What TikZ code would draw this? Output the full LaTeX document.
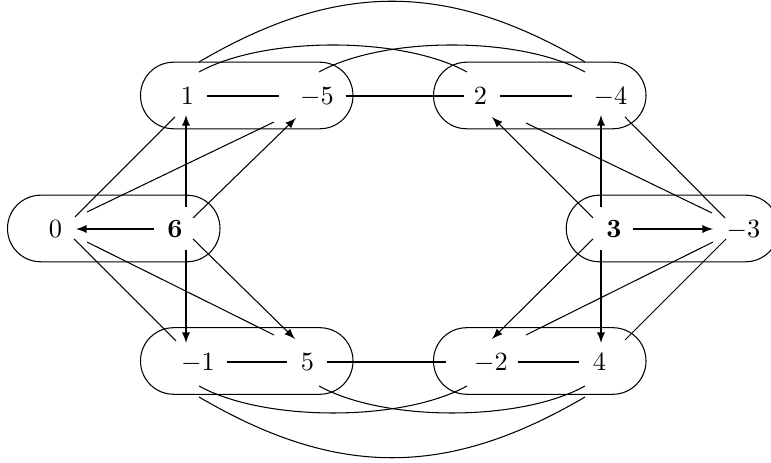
\documentclass[tikz,border=0pt]{standalone}
\usetikzlibrary{calc}
\begin{document}
\begin{tikzpicture}[x=0.38pt,y=-0.38pt,
  num/.style={inner sep=0pt, text height=6.44pt, text depth=0pt},
  grp/.style={draw, rounded corners=12.6pt, minimum width=80.75pt, minimum height=25.3pt, inner sep=0pt},
  arr/.style={-latex},
  ln/.style={}]
\useasboundingbox (0,0) rectangle (771,463);
% groups
\node[grp] (g1) at (246.75,95.5) {};
\node[grp] (g2) at (539.75,95.5) {};
\node[grp] (g3) at (113.75,228.5) {};
\node[grp] (g4) at (672.5,228.5) {};
\node[grp] (g5) at (246.75,361) {};
\node[grp] (g6) at (539.75,361) {};
% numbers
\node[num] (n1) at (187.5,96) {$1$};
\node[num] (nm5) at (317,96) {$-5$};
\node[num] (n2) at (480.5,96) {$2$};
\node[num] (nm4) at (610.5,96) {$-4$};
\node[num] (n0) at (55.5,229) {$0$};
\node[num] (n6) at (175,229) {$\mathbf{6}$};
\node[num] (n3) at (614,229) {$\mathbf{3}$};
\node[num] (nm3) at (743.5,229) {$-3$};
\node[num] (nm1) at (198,362) {$-1$};
\node[num] (n5) at (307.5,362) {$5$};
\node[num] (nm2) at (491,362) {$-2$};
\node[num] (n4) at (599.5,362) {$4$};
% horizontal connectors
\draw[ln] ($(n1)+(19.5,0)$) -- ($(nm5)+(-38,0)$);
\draw[ln] ($(nm5)+(29,0)$) -- ($(n2)+(-16.5,0)$);
\draw[ln] ($(n2)+(19.5,0)$) -- ($(nm4)+(-38.5,0)$);
\draw[ln] ($(nm1)+(29,0)$) -- ($(n5)+(-20.5,0)$);
\draw[ln] ($(n5)+(19.5,0)$) -- ($(nm2)+(-45,0)$);
\draw[ln] ($(nm2)+(27,0)$) -- ($(n4)+(-20.5,0)$);
\draw[arr] ($(n6)+(-21,0)$) -- ($(n0)+(20.5,0)$);
\draw[arr] ($(n3)+(19,0)$) -- ($(nm3)+(-30.5,0)$);
% left diagonals
\draw[ln] ($(n0)+(19.5,-12)$) -- ($(n1)+(-12.5,21)$);
\draw[ln] ($(n0)+(31.5,-17)$) -- ($(nm5)+(-43,26)$);
\draw[arr] ($(n6)+(11,-22)$) -- ($(n1)+(-1.5,19)$);
\draw[arr] ($(n6)+(18,-11)$) -- ($(nm5)+(-21,22)$);
\draw[ln] ($(n0)+(18.5,10)$) -- ($(nm1)+(-22,-21)$);
\draw[ln] ($(n0)+(31.5,13)$) -- ($(n5)+(-33.5,-27)$);
\draw[arr] ($(n6)+(11,21)$) -- ($(nm1)+(-12,-19)$);
\draw[arr] ($(n6)+(18,10)$) -- ($(n5)+(-12.5,-23)$);
% right diagonals
\draw[arr] ($(n3)+(-21,-11)$) -- ($(n2)+(11.5,21)$);
\draw[arr] ($(n3)+(-13,-22)$) -- ($(nm4)+(-9.5,19)$);
\draw[ln] ($(n2)+(45.5,27)$) -- ($(nm3)+(-31.5,-16)$);
\draw[ln] ($(nm4)+(14.5,21)$) -- ($(nm3)+(-18.5,-11)$);
\draw[arr] ($(n3)+(-21,10)$) -- ($(nm2)+(1,-23)$);
\draw[arr] ($(n3)+(-13,21)$) -- ($(n4)+(1.5,-19)$);
\draw[ln] ($(nm3)+(-30.5,13)$) -- ($(nm2)+(35,-27)$);
\draw[ln] ($(nm3)+(-17.5,10)$) -- ($(n4)+(25.5,-22)$);
% top curves
\draw[ln] ($(n1)+(11.5,-34)$) .. controls +(138,-81) and +(-138,-81) .. ($(nm4)+(-25.5,-34)$);
\draw[ln] ($(n1)+(11.5,-24)$) .. controls +(65,-36) and +(-65,-36) .. ($(n2)+(-13.5,-24)$);
\draw[ln] ($(nm5)+(2,-24)$) .. controls +(65,-36) and +(-65,-36) .. ($(nm4)+(-25.5,-24)$);
% bottom curves
\draw[ln] ($(nm1)+(1,35)$) .. controls +(138,81) and +(-138,81) .. ($(n4)+(-14.5,35)$);
\draw[ln] ($(nm1)+(1,24)$) .. controls +(65,36) and +(-65,36) .. ($(nm2)+(-24,24)$);
\draw[ln] ($(n5)+(11.5,24)$) .. controls +(65,36) and +(-65,36) .. ($(n4)+(-14.5,24)$);
\end{tikzpicture}
\end{document}
